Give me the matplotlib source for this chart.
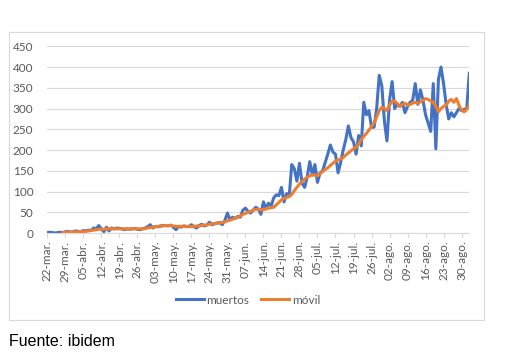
import matplotlib
matplotlib.use("Agg")
import matplotlib.pyplot as plt
from matplotlib.patches import Rectangle
import numpy as np
import pandas as pd

# muertos diarios, 22-mar .. 02-sep
muertos = [1, 2, 1, 0, 1, 2, 1, 3, 4, 2, 3, 5, 4, 2, 6,
           5, 7, 6, 12, 10, 18, 10, 3, 14, 5, 12, 10, 12, 11,
           10, 8, 10, 9, 10, 11, 9, 8, 10, 12, 15, 20, 12,
           16, 15, 17, 18, 18, 17, 19, 14, 8, 16, 14, 17, 16, 15,
           20, 15, 12, 18, 21, 17, 19, 26, 20, 22, 24, 25, 20, 30,
           48, 32, 38, 35, 40, 38, 55, 60, 52, 48, 55, 62, 58,
           45, 75, 60, 72, 65, 85, 92, 90,
           110, 75, 95, 88, 165, 155, 125, 168, 120, 110,
           135, 172, 140, 165, 122, 145, 150, 170, 190, 212,
           195, 190, 145, 170, 200, 225, 258, 230, 220, 190,
           235, 210, 315, 285, 295, 255, 255, 300, 380, 355,
           270, 222, 320, 365, 300, 310, 305, 315, 290, 305,
           315, 320, 360, 310, 345, 320, 285, 265, 245, 360,
           203, 370, 400, 360, 310, 275, 290, 280, 290, 300,
           295, 298, 300, 385]

# media móvil (empieza el 28-mar)
movil = [None] * 6 + [
    1, 2, 2, 2, 3, 3, 3, 3, 4, 4, 5, 6, 7, 8, 9,
    9, 9, 10, 10, 10, 10, 10, 10, 10, 10, 10, 10, 10, 10, 10, 10, 10, 11, 12, 13, 14,
    15, 16, 17, 17, 18, 18, 18, 17, 16, 16, 16, 16, 16, 16, 15,
    16, 17, 17, 18, 19, 20, 21, 22, 23, 24, 24, 25, 27,
    29, 31, 33, 36, 38, 41, 45, 47, 50, 52, 55, 57, 57, 56,
    56, 58, 60, 61, 62, 68, 74, 80, 83, 86, 88, 93, 102, 110, 118, 124,
    130, 134, 138, 140, 139, 138, 143, 148, 153, 157, 163, 168, 173, 176, 178, 182, 188, 193, 198, 203, 207,
    215, 225, 233, 240, 248, 257, 265, 280, 295, 303, 300, 295, 308, 318, 318, 312, 305, 310, 313, 308,
    310, 313, 315, 312, 316, 320, 324, 322, 318, 315, 305, 292, 300, 305, 308, 318, 322, 315, 324, 308,
    296, 292, 298, 308]

tick_labels = ['22-mar.', '29-mar.', '05-abr.', '12-abr.', '19-abr.', '26-abr.',
               '03-may.', '10-may.', '17-may.', '24-may.', '31-may.', '07-jun.',
               '14-jun.', '21-jun.', '28-jun.', '05-jul.', '12-jul.', '19-jul.',
               '26-jul.', '02-ago.', '09-ago.', '16-ago.', '23-ago.', '30-ago.']
y_ticks = [0, 50, 100, 150, 200, 250, 300, 350, 400, 450]

fechas = pd.date_range('2020-03-22', periods=len(muertos), freq='D')
movil_s = pd.Series(movil, index=fechas, dtype=float)
tick_pos = fechas[::7][:len(tick_labels)]

plt.rcParams['font.family'] = ['Lato', 'DejaVu Sans']

W, H = 528, 355
fig = plt.figure(figsize=(W / 100, H / 100), dpi=100)

# marco del gráfico
fig.patches.append(Rectangle((9 / W, 1 - 320 / H), 475 / W, 288 / H,
                             transform=fig.transFigure, fill=False,
                             edgecolor='#d9d9d9', linewidth=0.8))

ax = fig.add_axes([47.3 / W, 1 - 233 / H, (469.3 - 47.3) / W, (233 - 46.3) / H])
ax.plot(fechas, muertos, color='#4472C4', linewidth=2.2, label='muertos',
        solid_joinstyle='round')
ax.plot(movil_s.index, movil_s.values, color='#ED7D31', linewidth=2.2, label='móvil',
        solid_joinstyle='round')

ax.set_xlim(fechas[0], fechas[-1])
ax.set_ylim(0, 450)
ax.set_yticks(y_ticks)
ax.grid(axis='y', color='#d9d9d9', linewidth=0.8)
ax.set_axisbelow(True)
for s in ['top', 'right', 'left']:
    ax.spines[s].set_visible(False)
ax.spines['bottom'].set_color('#d9d9d9')
ax.spines['bottom'].set_linewidth(0.8)

ax.set_xticks(tick_pos)
ax.set_xticklabels(tick_labels, rotation=90, fontsize=8.5, color='#595959')
ax.tick_params(axis='x', length=3.5, color='#d9d9d9', pad=2)
ax.tick_params(axis='y', length=0, labelsize=8.5, labelcolor='#595959', pad=10)

fig.legend(loc='center', bbox_to_anchor=(248 / W, 1 - 300 / H), ncol=2,
           frameon=False, fontsize=8.5, handlelength=2.4, handletextpad=0.2,
           columnspacing=1.0, labelcolor='#595959')

fig.text(9 / W, 1 - 342 / H, 'Fuente: ibidem', fontsize=11.5, va='center', ha='left',
         family=['Liberation Sans', 'DejaVu Sans'], color='black')

fig.savefig('out.png', dpi=100, facecolor='white')
